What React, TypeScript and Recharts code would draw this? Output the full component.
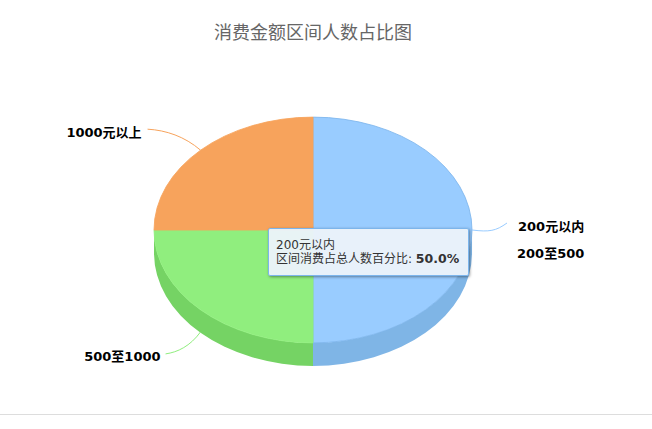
import { PieChart, Pie, Cell, Sector, Tooltip } from "recharts";

const categories = ["200元以内", "200至500", "500至1000", "1000元以上"];
const shares = [50, 0, 25, 25];
const topColors = ["#99CCFF", "#7CB5EC", "#90EE7E", "#F7A35C"];
const wallColors = ["#7FB5E6", "#6A9CD0", "#75D364", "#D98E4E"];

const chartData = categories.map((name, i) => ({ name, value: shares[i] }));

// the picture is a tilted pie: squash the circle and add a side wall
const TILT = 0.71;
const DEPTH = 23;
const RADIAN = Math.PI / 180;
const FONT = '"DejaVu Sans", "Noto Sans CJK SC", sans-serif';

// where each label and its connector end sit relative to the slice's edge point
const labelPlaces: Record<string, any> = {
  "200元以内": { dx: 46, dy: -4, anchor: "start", lx: 35, ly: -7, bend: [0.5, -0.3, 0.68, -0.15] },
  "200至500": { dx: 204, dy: -112, anchor: "start" },
  "500至1000": { dx: -40, dy: 25, anchor: "end", lx: -35, ly: 22, bend: [0.3, 0.65, 0.65, 0.92] },
  "1000元以上": { dx: -59, dy: -18, anchor: "end", lx: -53, ly: -21, bend: [0.3, 0.65, 0.65, 0.95] },
};

const SliceShape = (props: any) => {
  const { cx, cy, outerRadius, startAngle, endAngle, index } = props;
  const fill = topColors[index];
  const low = Math.max(Math.min(startAngle, endAngle), -180);
  const high = Math.min(Math.max(startAngle, endAngle), 0);
  const ry = outerRadius * TILT;
  const px = (a: number) => cx + outerRadius * Math.cos(a * RADIAN);
  const py = (a: number) => cy - ry * Math.sin(a * RADIAN);
  const wall =
    high > low
      ? `M${px(high)} ${py(high)} A${outerRadius} ${ry} 0 0 1 ${px(low)} ${py(low)} ` +
        `L${px(low)} ${py(low) + DEPTH} A${outerRadius} ${ry} 0 0 0 ${px(high)} ${py(high) + DEPTH} Z`
      : null;
  return (
    <g>
      {wall && <path d={wall} fill={wallColors[index]} />}
      <g transform={`translate(${cx} ${cy}) scale(1 ${TILT}) translate(${-cx} ${-cy})`}>
        <Sector
          cx={cx}
          cy={cy}
          innerRadius={0}
          outerRadius={outerRadius}
          startAngle={startAngle}
          endAngle={endAngle}
          fill={fill}
          stroke={index === 0 ? "#7CB5EC" : fill}
          strokeWidth={1}
        />
      </g>
    </g>
  );
};

const SliceLabel = (props: any) => {
  const { cx, cy, outerRadius, midAngle, name, index } = props;
  const place = labelPlaces[name];
  if (!place) return null;
  const sin = Math.sin(midAngle * RADIAN);
  const ex = cx + outerRadius * Math.cos(midAngle * RADIAN);
  const ey = cy - outerRadius * TILT * sin + (sin < -0.01 ? DEPTH * 0.96 : 0);
  const b = place.bend;
  return (
    <g>
      {b && (
        <path
          d={
            `M${ex} ${ey} C${ex + b[0] * place.lx} ${ey + b[1] * place.ly} ` +
            `${ex + b[2] * place.lx} ${ey + b[3] * place.ly} ${ex + place.lx} ${ey + place.ly}`
          }
          fill="none"
          stroke={topColors[index]}
          strokeWidth={1}
        />
      )}
      <text
        x={ex + place.dx}
        y={ey + place.dy}
        dy="0.35em"
        textAnchor={place.anchor}
        fontFamily={FONT}
        fontSize={13}
        fontWeight={700}
        fill="#000"
      >
        {name}
      </text>
    </g>
  );
};

const TipBox = ({ payload }: any) => {
  const item = payload && payload[0] ? payload[0] : { name: categories[0], value: shares[0] };
  return (
    <div style={tipStyle}>
      <div>{item.name}</div>
      <div>
        区间消费占总人数百分比: <b style={{ color: "#333", fontSize: 12.5 }}>{Number(item.value).toFixed(1)}%</b>
      </div>
    </div>
  );
};

export default function App() {
  return (
    <div style={pageStyle}>
      <div style={titleStyle}>消费金额区间人数占比图</div>
      <PieChart width={652} height={429} margin={{ top: 0, right: 0, bottom: 0, left: 0 }}>
        <Pie
          data={chartData}
          dataKey="value"
          nameKey="name"
          cx={313}
          cy={230}
          outerRadius={159}
          startAngle={90}
          endAngle={-270}
          stroke="none"
          shape={SliceShape}
          activeShape={SliceShape}
          label={SliceLabel}
          labelLine={false}
          isAnimationActive={false}
        >
          {chartData.map((d, i) => (
            <Cell key={d.name} fill={topColors[i]} />
          ))}
        </Pie>
        <Tooltip
          defaultIndex={0}
          content={<TipBox />}
          position={{ x: 268, y: 228 }}
          isAnimationActive={false}
          wrapperStyle={{ outline: "none" }}
        />
      </PieChart>
      <div style={ruleStyle} />
    </div>
  );
}

const pageStyle: React.CSSProperties = {
  position: "absolute",
  left: 0,
  top: 0,
  width: 652,
  height: 429,
  background: "white",
  overflow: "hidden",
};

const titleStyle: React.CSSProperties = {
  position: "absolute",
  left: 0,
  width: 626,
  top: 19,
  textAlign: "center",
  fontFamily: '"Noto Sans CJK SC", sans-serif',
  fontSize: 18,
  lineHeight: "24px",
  color: "#666",
};

const ruleStyle: React.CSSProperties = {
  position: "absolute",
  left: 0,
  top: 414,
  width: 652,
  height: 1,
  background: "#DDD",
};

const tipStyle: React.CSSProperties = {
  boxSizing: "border-box",
  width: 201,
  height: 48,
  padding: "9px 7px",
  background: "rgba(235,242,250,0.96)",
  border: "1px solid #7CB5EC",
  borderRadius: 2,
  boxShadow: "1px 1px 3px rgba(0,0,0,0.4)",
  fontFamily: FONT,
  fontSize: 12,
  lineHeight: "14px",
  color: "#333",
  whiteSpace: "nowrap",
};
